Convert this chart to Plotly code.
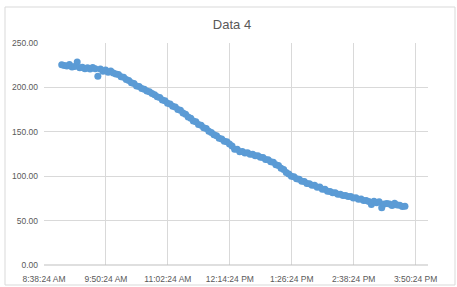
import plotly.graph_objects as go

# Time of reading (minutes after midnight) and measured values
minutes = [539, 542, 545, 548, 551, 554, 557, 560, 563, 566, 569, 572, 575, 578, 581, 584, 587, 590, 593, 596,
           599, 602, 605, 608, 611, 614, 617, 620, 623, 626, 629, 632, 635, 638, 641, 644, 647, 650, 653, 656,
           659, 662, 665, 668, 671, 674, 677, 680, 683, 686, 689, 692, 695, 698, 701, 704, 707, 710, 713, 716,
           719, 722, 725, 728, 731, 734, 737, 740, 743, 746, 749, 752, 755, 758, 761, 764, 767, 770, 773, 776,
           779, 782, 785, 788, 791, 794, 797, 800, 803, 806, 809, 812, 815, 818, 821, 824, 827, 830, 833, 836,
           839, 842, 845, 848, 851, 854, 857, 860, 863, 866, 869, 872, 875, 878, 881, 884, 887, 890, 893, 896,
           899, 902, 905, 908, 911, 914, 917, 920, 923, 926, 929, 932, 935, 938]
values = [225.5, 224.6, 224.2, 225.8, 223.1, 223.4, 228.5, 222.0, 222.8, 221.0, 222.1, 220.6, 222.5, 221.0, 212.5,
          220.8, 218.2, 219.6, 217.2, 218.5, 216.3, 215.0, 214.6, 212.1, 211.4, 208.8, 207.9, 205.2, 204.3, 201.6,
          200.9, 198.7, 197.8, 195.9, 195.1, 193.0, 191.8, 189.5, 188.7, 185.9, 185.0, 182.1, 181.2, 178.7, 177.9,
          175.0, 174.3, 171.1, 169.9, 166.6, 165.3, 162.2, 161.4, 158.1, 157.3, 154.6, 153.6, 150.5, 149.2, 146.7,
          145.6, 142.6, 142.0, 139.3, 138.8, 136.4, 134.0, 130.4, 130.3, 127.6, 127.9, 126.2, 126.3, 124.8, 124.6,
          123.1, 123.0, 121.3, 121.0, 118.8, 118.4, 116.3, 115.6, 113.0, 112.1, 108.9, 107.5, 104.1, 102.6, 99.9,
          99.4, 97.0, 96.5, 94.2, 93.9, 91.7, 91.5, 89.8, 89.8, 87.6, 87.9, 85.4, 85.3, 83.1, 82.9,
          81.3, 81.4, 79.8, 79.7, 78.2, 78.4, 77.0, 77.0, 75.4, 75.7, 74.0, 74.2, 72.6, 72.5, 71.4,
          68.0, 71.9, 70.0, 71.3, 64.5, 68.6, 69.2, 68.7, 67.0, 69.4, 67.7, 67.3, 66.0, 66.2]

x_tick_days = [0.36, 0.41, 0.46, 0.51, 0.56, 0.61, 0.66]
x_tick_labels = ["8:38:24 AM", "9:50:24 AM", "11:02:24 AM", "12:14:24 PM", "1:26:24 PM", "2:38:24 PM", "3:50:24 PM"]
y_ticks = [0, 50, 100, 150, 200, 250]

x_days = [m / 1440 for m in minutes]

fig = go.Figure()
fig.add_trace(go.Scatter(
    x=x_days, y=values, mode="markers",
    marker=dict(color="#5b9bd5", size=7, line=dict(width=0)),
    showlegend=False, hoverinfo="skip",
))

font = "Liberation Sans"
grid = "#d9d9d9"
fig.update_layout(
    width=457, height=287,
    margin=dict(l=44, r=29, t=43, b=22),
    paper_bgcolor="white", plot_bgcolor="white",
    title=dict(text="Data 4", x=232 / 457, xref="container", xanchor="center",
               y=1 - 24 / 287, yref="container", yanchor="middle",
               font=dict(family=font, size=13, color="#595959")),
    xaxis=dict(range=[0.36, 0.67], tickvals=x_tick_days, ticktext=x_tick_labels,
               showgrid=True, gridcolor=grid, gridwidth=1, zeroline=False, automargin=False,
               showline=False, ticks="", ticklabelstandoff=7,
               tickfont=dict(family=font, size=8.5, color="#595959")),
    yaxis=dict(range=[0, 250], tickvals=y_ticks, tickformat=".2f",
               showgrid=True, gridcolor=grid, gridwidth=1, zeroline=False, automargin=False,
               showline=False, ticks="", ticklabelstandoff=5,
               tickfont=dict(family=font, size=8.5, color="#595959")),
)
# bottom axis line
fig.add_shape(type="line", xref="paper", yref="paper", x0=0, x1=1, y0=0, y1=0,
              line=dict(color="#bfbfbf", width=1))
# outer chart frame
fig.add_shape(type="rect", xref="paper", yref="paper",
              x0=(5 - 44) / 384, x1=(455 - 44) / 384, y0=(265 - 285) / 222, y1=(265 - 7) / 222,
              line=dict(color="#d9d9d9", width=1), layer="below")

fig.write_html("out.html", config={"displayModeBar": False},
               post_script="document.body.style.margin='0';document.body.style.overflow='hidden';")
